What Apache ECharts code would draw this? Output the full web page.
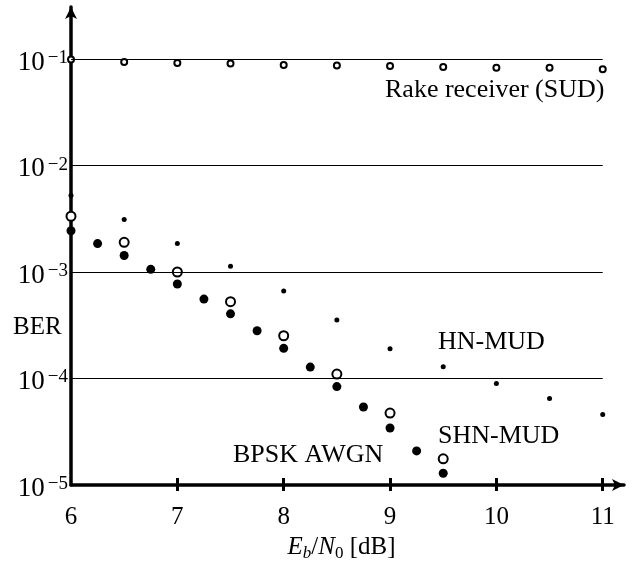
<!DOCTYPE html>
<html>
<head>
<meta charset="utf-8">
<script src="https://cdn.jsdelivr.net/npm/echarts@6/dist/echarts.min.js"></script>
<style>
  html, body { margin: 0; padding: 0; background: #fff; }
  #main { width: 635px; height: 562px; }
</style>
</head>
<body>
<div id="main"></div>
<script>
// data
const snrCoarse = [6, 6.5, 7, 7.5, 8, 8.5, 9, 9.5, 10, 10.5, 11]
const rakeBer = [0.099, 0.094, 0.092, 0.091, 0.088, 0.087, 0.086, 0.084, 0.083, 0.083, 0.080]
const hnMudBer = [0.00523, 0.00311, 0.00185, 0.00113, 0.000664, 0.000355, 0.000190, 0.000129, 0.000090, 0.000065, 0.000046]
const snrShn = [6, 6.5, 7, 7.5, 8, 8.5, 9, 9.5]
const shnMudBer = [0.00334, 0.00190, 0.00100, 0.000526, 0.000252, 0.000110, 0.0000474, 0.0000176]
const snrBpsk = [6, 6.25, 6.5, 6.75, 7, 7.25, 7.5, 7.75, 8, 8.25, 8.5, 8.75, 9, 9.25, 9.5]
const bpskBer = [0.00244, 0.00185, 0.00143, 0.00106, 0.000771, 0.000557, 0.000405, 0.000281, 0.000192, 0.000128, 0.000084, 0.000054, 0.0000343, 0.0000209, 0.0000129]
const xTicks = [7, 8, 9, 10, 11]
const xLabels = [6, 7, 8, 9, 10, 11]
const gridDecades = [1e-1, 1e-2, 1e-3, 1e-4]

const serif = 'Liberation Serif'
const chart = echarts.init(document.getElementById('main'))

const pairs = (xs, ys) => xs.map((x, i) => [x, ys[i]])

const option = {
  animation: false,
  backgroundColor: '#fff',
  textStyle: { fontFamily: serif, color: '#000' },
  grid: { left: 71, right: 11, top: 7, bottom: 77, outerBoundsMode: 'none', containLabel: false },
  xAxis: [
    {
      type: 'value',
      min: 6,
      max: 11.2,
      interval: 1,
      splitLine: { show: false },
      axisLine: {
        lineStyle: { color: '#000', width: 3.5 },
        symbol: ['none', 'arrow'],
        symbolSize: [9, 12]
      },
      axisTick: { show: true, customValues: xTicks, length: 6, lineStyle: { color: '#000', width: 3 } },
      axisLabel: {
        customValues: xLabels,
        margin: 20,
        fontSize: 25,
        fontFamily: serif,
        color: '#000'
      },
      name: '{i|E}{si|b}{n|/}{i|N}{s|0}{n| [dB]}',
      nameLocation: 'middle',
      nameGap: 48,
      nameTextStyle: {
        padding: [0, 12, 0, 0],
        rich: {
          i: { fontSize: 25, fontFamily: serif, fontStyle: 'italic', color: '#000' },
          n: { fontSize: 25, fontFamily: serif, color: '#000' },
          si: { fontSize: 17, fontFamily: serif, fontStyle: 'italic', color: '#000', padding: [12, 0, 0, 0] },
          s: { fontSize: 17, fontFamily: serif, color: '#000', padding: [12, 0, 0, 0] }
        }
      }
    },
    {
      // inner half of the ticks
      type: 'value',
      min: 6,
      max: 11.2,
      interval: 1,
      position: 'bottom',
      splitLine: { show: false },
      axisLine: { show: false },
      axisTick: { show: true, inside: true, customValues: xTicks, length: 7, lineStyle: { color: '#000', width: 3 } },
      axisLabel: { show: false }
    }
  ],
  yAxis: {
    type: 'log',
    logBase: 10,
    min: 1e-5,
    max: 0.308,
    splitLine: { show: false },
    axisTick: { show: false },
    axisLine: {
      lineStyle: { color: '#000', width: 3.5 },
      symbol: ['none', 'arrow'],
      symbolSize: [9, 12]
    },
    axisLabel: {
      margin: 3,
      formatter: function (v) {
        const e = Math.log10(v)
        const r = Math.round(e)
        if (Math.abs(e - r) > 1e-6) return ''
        return '{b|10}{s|\u2212' + (-r) + '}'
      },
      rich: {
        b: { fontSize: 27, fontFamily: serif, color: '#000', padding: [7, 0, 0, 0] },
        s: { fontSize: 19, fontFamily: serif, color: '#000', padding: [0, 0, 2, 3] }
      }
    }
  },
  series: [
    {
      name: 'grid',
      type: 'line',
      data: [],
      markLine: {
        silent: true,
        symbol: 'none',
        label: { show: false },
        lineStyle: { color: '#000', width: 1.2, type: 'solid' },
        data: gridDecades.map(v => [{ coord: [6, v] }, { coord: [11, v] }])
      }
    },
    {
      name: 'Rake receiver (SUD)',
      type: 'scatter',
      clip: false,
      symbol: 'emptyCircle',
      symbolSize: 6,
      itemStyle: { color: '#000', borderWidth: 1, opacity: 1 },
      data: pairs(snrCoarse, rakeBer)
    },
    {
      name: 'HN-MUD',
      type: 'scatter',
      clip: false,
      symbol: 'circle',
      symbolSize: 5,
      itemStyle: { color: '#000', opacity: 1 },
      data: pairs(snrCoarse, hnMudBer)
    },
    {
      name: 'SHN-MUD',
      type: 'scatter',
      clip: false,
      symbol: 'emptyCircle',
      symbolSize: 9,
      itemStyle: { color: '#000', borderWidth: 1.2, opacity: 1 },
      data: pairs(snrShn, shnMudBer)
    },
    {
      name: 'BPSK AWGN',
      type: 'scatter',
      clip: false,
      symbol: 'circle',
      symbolSize: 9,
      itemStyle: { color: '#000', opacity: 1 },
      data: pairs(snrBpsk, bpskBer)
    }
  ],
  graphic: [
    { type: 'text', left: 13, top: 315, style: { text: 'BER', font: '25px "Liberation Serif"', fill: '#000' } },
    { type: 'text', left: 385, top: 77, style: { text: 'Rake receiver (SUD)', font: '26px "Liberation Serif"', fill: '#000' } },
    { type: 'text', left: 438, top: 329, style: { text: 'HN-MUD', font: '26px "Liberation Serif"', fill: '#000' } },
    { type: 'text', left: 438, top: 423, style: { text: 'SHN-MUD', font: '26px "Liberation Serif"', fill: '#000' } },
    { type: 'text', left: 233, top: 442, style: { text: 'BPSK AWGN', font: '26px "Liberation Serif"', fill: '#000' } }
  ]
}

chart.setOption(option)
</script>
</body>
</html>
